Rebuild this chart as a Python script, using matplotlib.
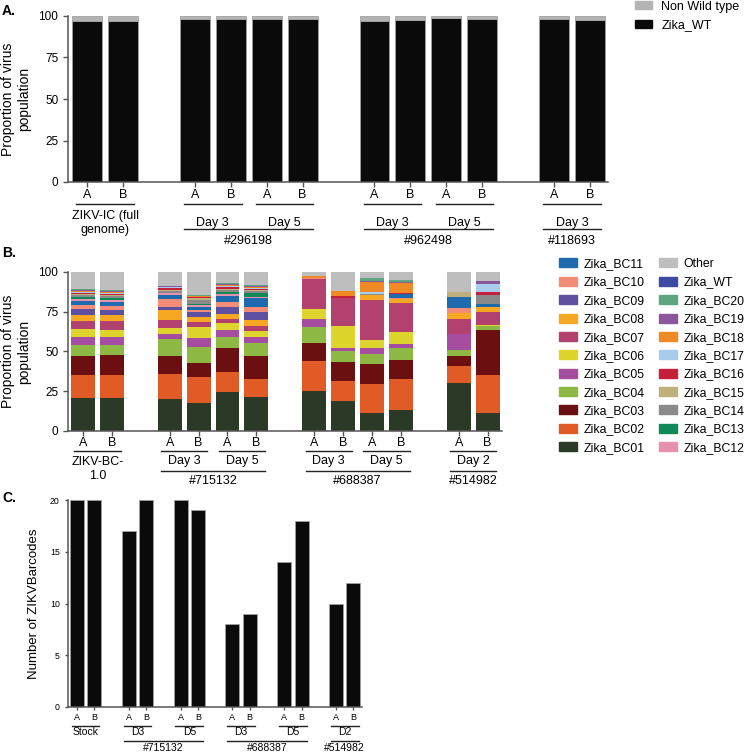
import numpy as np
import matplotlib.pyplot as plt
from matplotlib.patches import Patch

plt.rcParams['font.family'] = ['Liberation Sans', 'DejaVu Sans']

# ---- panel A: wild type vs non wild type (%), 12 samples
wt_a = [97.2, 97.2, 98.4, 98.0, 98.0, 98.0, 97.2, 97.6, 98.6, 98.2, 98.4, 97.6]
nonwt_a = [2.8, 2.8, 1.6, 2.0, 2.0, 2.0, 2.8, 2.4, 1.4, 1.8, 1.6, 2.4]

# ---- panel B: barcode proportions (%), 12 samples
bc01 = [21.0, 21.0, 20.3, 17.8, 24.5, 21.6, 25.2, 18.9, 11.1, 13.2, 30.4, 11.5]
bc02 = [14.0, 14.5, 15.7, 16.2, 12.6, 11.3, 18.8, 12.5, 18.7, 19.7, 10.5, 23.5]
bc03 = [12.0, 12.0, 11.0, 9.0, 15.3, 14.1, 11.6, 12.2, 12.5, 11.5, 6.3, 28.3]
bc04 = [7.0, 6.7, 10.6, 9.8, 6.7, 8.1, 9.8, 6.7, 5.9, 7.8, 3.5, 2.7]
bc05 = [5.0, 4.8, 3.2, 5.5, 4.4, 4.0, 5.2, 2.1, 4.2, 2.7, 10.1, 0.0]
bc06 = [5.0, 4.6, 3.8, 7.3, 4.6, 3.6, 5.9, 13.6, 4.6, 7.6, 0.0, 0.7]
bc07 = [5.0, 5.4, 5.0, 3.2, 2.5, 3.5, 18.9, 17.9, 25.4, 18.2, 9.8, 8.1]
bc08 = [4.0, 4.0, 6.3, 3.1, 3.2, 3.4, 0.3, 0.0, 3.0, 2.1, 3.8, 3.4]
bc09 = [3.5, 3.1, 2.3, 2.9, 4.4, 5.4, 0.0, 0.0, 0.0, 0.0, 0.0, 0.0]
bc10 = [2.5, 2.3, 4.8, 1.5, 2.7, 3.0, 0.3, 0.0, 0.4, 0.8, 3.2, 0.0]
bc11 = [2.5, 2.5, 2.5, 1.7, 3.8, 5.4, 0.0, 0.0, 0.0, 2.7, 6.7, 1.5]
bc12 = [1.5, 1.3, 1.0, 1.2, 1.3, 1.1, 0.0, 0.0, 0.0, 0.0, 0.0, 0.0]
bc13 = [1.2, 1.2, 0.5, 0.8, 1.4, 2.5, 0.0, 0.0, 0.0, 0.0, 0.0, 0.0]
bc14 = [1.2, 1.2, 1.0, 2.2, 1.3, 0.8, 0.0, 0.0, 0.4, 0.0, 0.0, 5.6]
bc15 = [0.8, 0.8, 0.5, 1.2, 0.8, 0.9, 0.0, 0.0, 0.0, 0.0, 3.1, 0.0]
bc16 = [0.8, 0.8, 1.5, 0.6, 1.3, 0.8, 0.3, 0.8, 0.0, 0.8, 0.0, 2.1]
bc17 = [0.6, 0.6, 0.4, 0.4, 0.5, 0.5, 0.0, 0.0, 1.0, 0.0, 0.0, 5.3]
bc18 = [0.6, 0.6, 0.3, 0.3, 0.6, 0.6, 1.2, 3.3, 6.3, 5.7, 0.0, 0.0]
bc19 = [0.5, 0.5, 0.3, 0.3, 0.4, 0.5, 0.0, 0.0, 0.8, 0.8, 0.0, 1.6]
bc20 = [0.5, 0.5, 0.4, 0.3, 0.8, 0.5, 0.0, 0.0, 1.7, 1.5, 0.0, 0.0]
zika_wt = [0.3, 0.3, 0.0, 0.0, 0.2, 0.2, 0.0, 0.0, 0.0, 0.0, 0.0, 0.0]
other = [10.5, 11.3, 8.6, 14.7, 6.7, 8.2, 2.5, 12.0, 4.0, 4.9, 12.6, 5.7]

# ---- panel C: number of barcodes detected
n_barcodes = [20, 20, 17, 20, 20, 19, 8, 9, 14, 18, 10, 12]

reps = ['A', 'B'] * 6

segments = [
    ('Zika_BC01', bc01, '#2B3A27'), ('Zika_BC02', bc02, '#E15B27'),
    ('Zika_BC03', bc03, '#6C0F10'), ('Zika_BC04', bc04, '#8DB844'),
    ('Zika_BC05', bc05, '#A64DA1'), ('Zika_BC06', bc06, '#DDD52B'),
    ('Zika_BC07', bc07, '#B2416F'), ('Zika_BC08', bc08, '#F7A823'),
    ('Zika_BC09', bc09, '#5F4FA0'), ('Zika_BC10', bc10, '#F48D77'),
    ('Zika_BC11', bc11, '#1E6AAE'), ('Zika_BC12', bc12, '#E691AE'),
    ('Zika_BC13', bc13, '#0D8A56'), ('Zika_BC14', bc14, '#8A8A8A'),
    ('Zika_BC15', bc15, '#BFAF7A'), ('Zika_BC16', bc16, '#C51F3A'),
    ('Zika_BC17', bc17, '#A8CCEB'), ('Zika_BC18', bc18, '#F08A25'),
    ('Zika_BC19', bc19, '#8B569C'), ('Zika_BC20', bc20, '#5CA680'),
    ('Zika_WT', zika_wt, '#3C4AA3'), ('Other', other, '#BEBEBE'),
]

W, H = 750, 755
fig = plt.figure(figsize=(W / 100, H / 100), dpi=100)


def px_axes(x0, y0, x1, y1):
    return fig.add_axes([x0 / W, 1 - y1 / H, (x1 - x0) / W, (y1 - y0) / H])


def style(ax, fs):
    for s in ['top', 'right']:
        ax.spines[s].set_visible(False)
    for s in ['left', 'bottom']:
        ax.spines[s].set_color('#555555')
        ax.spines[s].set_linewidth(1.1)
    ax.tick_params(axis='both', colors='#555555', length=3.5, width=1, labelsize=fs, labelcolor='black')
    ax.tick_params(axis='x', labelbottom=False)


def annotate(ax, y0, y1, pos, rows, fs_ab, fs):
    # rows: (kind, pixel y, items) drawn below the axis
    def fy(py):
        return (y1 - py) / (y1 - y0)
    tr = ax.get_xaxis_transform()
    for kind, py, items in rows:
        if kind == 'ab':
            for p, r in zip(pos, reps):
                ax.text(p, fy(py), r, transform=tr, ha='center', va='center', fontsize=fs_ab)
        elif kind == 'line':
            for a, b in items:
                ax.plot([pos[a] - 0.3, pos[b] + 0.3], [fy(py), fy(py)], transform=tr,
                        color='#222222', lw=1, clip_on=False)
        else:
            for a, b, t in items:
                ax.text((pos[a] + pos[b]) / 2, fy(py), t, transform=tr, ha='center',
                        va='center', fontsize=fs, linespacing=1.25)


# ---------------- panel A ----------------
posA = [0, 1, 3, 4, 5, 6, 8, 9, 10, 11, 13, 14]
ax = px_axes(68, 16, 608, 182)
ax.bar(posA, wt_a, width=0.83, color='#0A0A0A', edgecolor='#A0A0A0', linewidth=0.6)
ax.bar(posA, nonwt_a, bottom=wt_a, width=0.83, color='#B3B3B3', edgecolor='#A0A0A0', linewidth=0.6)
ax.set_xlim(-0.53, 14.5)
ax.set_ylim(0, 100)
ax.set_yticks([0, 25, 50, 75, 100])
ax.set_xticks(posA)
style(ax, 8.5)
ax.set_ylabel('Proportion of virus\npopulation', fontsize=10, labelpad=5)
annotate(ax, 16, 182, posA, [
    ('ab', 195, None),
    ('line', 204, [(0, 1), (2, 3), (4, 5), (6, 7), (8, 9), (10, 11)]),
    ('txt', 223, [(0, 1, 'ZIKV-IC (full\ngenome)'), (2, 3, 'Day 3'), (4, 5, 'Day 5'),
                  (6, 7, 'Day 3'), (8, 9, 'Day 5'), (10, 11, 'Day 3')]),
    ('line', 229, [(2, 5), (6, 9), (10, 11)]),
    ('txt', 241, [(2, 5, '#296198'), (6, 9, '#962498'), (10, 11, '#118693')]),
], 9, 9)
fig.legend(handles=[Patch(color='#B3B3B3', label='Non Wild type'), Patch(color='#0A0A0A', label='Zika_WT')],
           loc='center left', bbox_to_anchor=(635 / W, 1 - 16 / H), frameon=False, fontsize=9,
           handlelength=1.35, handleheight=0.55, labelspacing=0.55, handletextpad=0.75, borderpad=0,
           borderaxespad=0)

# ---------------- panel B ----------------
ax = px_axes(68, 272, 502, 431)
bottom = np.zeros(len(posA))
for name, vals, col in segments:
    ax.bar(posA, vals, bottom=bottom, width=0.83, color=col, edgecolor='none')
    bottom = bottom + np.array(vals)
ax.set_xlim(-0.52, 14.5)
ax.set_ylim(0, 100)
ax.set_yticks([0, 25, 50, 75, 100])
ax.set_xticks(posA)
style(ax, 8.5)
ax.set_ylabel('Proportion of virus\npopulation', fontsize=10, labelpad=5)
annotate(ax, 272, 431, posA, [
    ('ab', 443, None),
    ('line', 451, [(0, 1), (2, 3), (4, 5), (6, 7), (8, 9), (10, 11)]),
    ('txt', 469, [(0, 1, 'ZIKV-BC-\n1.0')]),
    ('txt', 461, [(2, 3, 'Day 3'), (4, 5, 'Day 5'), (6, 7, 'Day 3'), (8, 9, 'Day 5'), (10, 11, 'Day 2')]),
    ('line', 471, [(2, 5), (6, 9), (10, 11)]),
    ('txt', 481, [(2, 5, '#715132'), (6, 9, '#688387'), (10, 11, '#514982')]),
], 9, 9)

lookup = {n: c for n, v, c in segments}
order = ['Zika_BC11', 'Zika_BC10', 'Zika_BC09', 'Zika_BC08', 'Zika_BC07', 'Zika_BC06',
         'Zika_BC05', 'Zika_BC04', 'Zika_BC03', 'Zika_BC02', 'Zika_BC01',
         'Other', 'Zika_WT', 'Zika_BC20', 'Zika_BC19', 'Zika_BC18', 'Zika_BC17',
         'Zika_BC16', 'Zika_BC15', 'Zika_BC14', 'Zika_BC13', 'Zika_BC12']
fig.legend(handles=[Patch(color=lookup[n], label=n) for n in order], ncol=2,
           loc='center left', bbox_to_anchor=(559 / W, 1 - 356 / H), frameon=False, fontsize=8.8,
           handlelength=1.45, handleheight=0.76, labelspacing=0.52, handletextpad=0.55,
           columnspacing=1.2, borderpad=0, borderaxespad=0)

# ---------------- panel C ----------------
posC = [0, 1, 3, 4, 6, 7, 9, 10, 12, 13, 15, 16]
ax = px_axes(68, 500, 362, 707)
ax.bar(posC, n_barcodes, width=0.81, color='#0A0A0A', edgecolor='#A0A0A0', linewidth=0.6)
ax.set_xlim(-0.52, 16.5)
ax.set_ylim(0, 20)
ax.set_yticks([0, 5, 10, 15, 20])
ax.set_xticks(posC)
style(ax, 6.3)
ax.tick_params(axis='both', length=2.5)
ax.set_ylabel('Number of ZIKVBarcodes', fontsize=9.5, labelpad=7)
annotate(ax, 500, 707, posC, [
    ('ab', 718, None),
    ('line', 726, [(0, 1), (2, 3), (4, 5), (6, 7), (8, 9), (10, 11)]),
    ('txt', 732, [(0, 1, 'Stock'), (2, 3, 'D3'), (4, 5, 'D5'), (6, 7, 'D3'), (8, 9, 'D5'), (10, 11, 'D2')]),
    ('line', 741, [(2, 5), (6, 9), (10, 11)]),
    ('txt', 748, [(2, 5, '#715132'), (6, 9, '#688387'), (10, 11, '#514982')]),
], 6.5, 7.5)

for lab, py in [('A.', 11), ('B.', 253), ('C.', 498)]:
    fig.text(2 / W, 1 - py / H, lab, fontsize=10, fontweight='bold', va='center', ha='left')

fig.savefig('out.png', dpi=100)
